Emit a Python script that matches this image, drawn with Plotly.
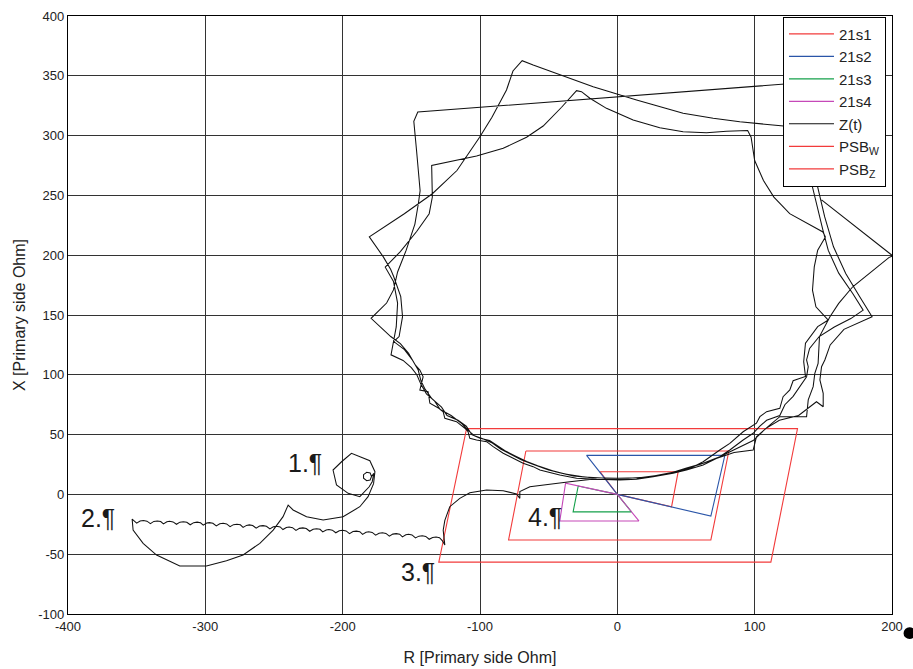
import plotly.graph_objects as go

# ---------------- axis ticks ----------------
x_ticks = [-400, -300, -200, -100, 0, 100, 200]
x_ticklabels = ["-400", "-300", "-200", "-100", "0", "100", "200"]
y_ticks = [-100, -50, 0, 50, 100, 150, 200, 250, 300, 350, 400]
y_ticklabels = ["-100", "-50", "0", "50", "100", "150", "200", "250", "300", "350", "400"]

# ---------------- zone characteristics (R, X in primary ohm) ----------------
z1_r = [0, -12.7, 44.3, 39.5, 0]
z1_x = [0, 19.0, 19.0, -10.3, 0]
z2_r = [0, -22.4, 78.3, 68.1, 0]
z2_x = [0, 32.6, 32.6, -18.1, 0]
z3_r = [0, -28.5, -32.2, 10.3, 0]
z3_x = [0, 7.0, -14.6, -14.6, 0]
z4_r = [0, -37.7, -41.9, 15.7, 0]
z4_x = [0, 9.3, -22.2, -22.2, 0]
psbw_r = [-66.6, 81.2, 68.1, -79.2, -66.6]
psbw_x = [36.3, 36.3, -38.1, -38.1, 36.3]
psbz_r = [-109.8, 131.2, 111.8, -130.0, -109.8]
psbz_x = [55.0, 55.0, -56.6, -56.6, 55.0]

# ---------------- impedance trajectory Z(t), piece by piece ----------------
seg_start = [(-179, 15), (-180, 18), (-182.5, 18.5), (-184.8, 16.5), (-184.8, 13.5),
             (-182.5, 11.5), (-180, 12), (-179, 15), (-177.3, 17.6), (-178.5, 10.6),
             (-180.7, 6.4), (-187.5, -1.9), (-196, 0.9), (-204.5, 7.9), (-207, 20.4),
             (-200.8, 27.3), (-193.6, 34.4), (-180.2, 28.2), (-176.5, 19), (-177.5, 9),
             (-181.5, -1.9), (-187.5, -10.3), (-199.7, -18.6), (-214.2, -21.4),
             (-226.3, -18.6), (-236.1, -13), (-239.7, -8.9)]
seg_arc = [(-243.4, -18.6), (-250.6, -29.8), (-260.3, -40.9), (-272.5, -50.7),
           (-284.6, -55.4), (-299.2, -59.9), (-318.6, -59.9), (-335.5, -50.7),
           (-345.3, -40.9), (-352.6, -29.8), (-353.3, -20.6), (-350, -24.0)]
seg_scallop = [(-347.5, -22.3), (-345, -21.9), (-342.5, -22.4), (-340, -24.4),
               (-337.5, -22.6), (-335, -22.2), (-332.5, -22.7), (-330.5, -24.7),
               (-328, -22.9), (-326, -22.5), (-323.5, -23.0), (-321, -25.0),
               (-318.5, -23.2), (-316, -22.8), (-313.5, -23.3), (-311, -25.4),
               (-308.5, -23.6), (-306, -23.2), (-303.5, -23.7), (-301.5, -25.7),
               (-299, -24.0), (-297, -23.6), (-294.5, -24.1), (-292, -26.3),
               (-289.5, -24.6), (-287, -24.2), (-284.5, -24.7), (-282, -27.0),
               (-279.5, -25.3), (-277, -24.9), (-274.5, -25.4), (-272.5, -27.6),
               (-270, -25.9), (-268, -25.5), (-265.5, -26.0), (-263, -28.2),
               (-260.5, -26.5), (-258, -26.1), (-255.5, -26.6), (-253, -28.8),
               (-250.5, -27.1), (-248, -26.7), (-245.5, -27.2), (-243.5, -29.4),
               (-241, -27.7), (-239, -27.3), (-236.5, -27.8), (-234, -30.1),
               (-231.5, -28.4), (-229, -28.0), (-226.5, -28.5), (-224, -30.8),
               (-221.5, -29.1), (-219, -28.7), (-216.5, -29.2), (-214.5, -31.4),
               (-212, -29.8), (-210, -29.4), (-207.5, -29.9), (-205, -32.1),
               (-202.5, -30.4), (-200, -30.0), (-197.5, -30.5), (-195, -32.8),
               (-192.5, -31.1), (-190, -30.7), (-187.5, -31.2), (-185.5, -33.4),
               (-183, -31.7), (-181, -31.3), (-178.5, -31.8), (-176, -34.1),
               (-173.5, -32.5), (-171, -32.1), (-168.5, -32.6), (-166, -34.9),
               (-163.5, -33.2), (-161, -32.8), (-158.5, -33.3), (-156.5, -35.5),
               (-154, -33.8), (-152, -33.4), (-149.5, -33.9), (-147, -36.4),
               (-144.5, -34.9), (-142, -34.6), (-139.5, -35.1), (-137, -37.5),
               (-134.5, -36.0), (-132, -35.7), (-129.5, -36.2), (-127.5, -38.6)]
seg_enter = [(-125.6, -42.3), (-126.8, -30), (-125.6, -21.7), (-122, -10.3), (-114.7, -3.3),
             (-107.4, 1.4), (-95.2, 3.7), (-83.1, 3.1), (-73.4, 0.3), (-71, -3.3), (-71, 2.3),
             (-63.7, 6.4), (-51.6, 7.9), (-34.6, 10.6), (-20, 12.5), (-5, 12.8), (14, 12.6),
             (26.1, 14.8), (40.6, 17.6), (50.4, 20.4), (62.5, 24.6), (74.6, 31.5), (81.9, 37.1),
             (91.6, 45.5), (98.9, 51.1), (103.8, 57), (108.7, 62), (118.3, 66), (122, 75),
             (128, 82), (133, 90), (137.8, 98.4), (139, 106.8), (137.8, 112.4)]
lap_a = [(140, 122), (147, 132), (158, 140), (170, 147), (179, 154), (171.4, 168),
         (161.2, 185), (153.6, 204), (149.7, 221), (145.9, 240), (142.1, 257), (150, 300),
         (155, 346), (-145.3, 319.7), (-148.2, 312), (-146.2, 287.5), (-143.6, 254),
         (-144.9, 243), (-147.4, 226), (-153.8, 204), (-160, 186), (-163, 171), (-168, 160),
         (-179.3, 147.2), (-172, 139), (-165, 132), (-158, 126), (-152, 118), (-147, 108),
         (-143.8, 104), (-141.4, 98.4), (-143.8, 87.3), (-137.8, 85.9), (-136.5, 76.2),
         (-130, 72), (-126.8, 69.1), (-125.6, 63.6), (-117.1, 60.8), (-111, 55.3),
         (-108.7, 52.4), (-107.4, 46.9), (-102.5, 45.5), (-95.2, 44.1), (-90.4, 39.9),
         (-83.1, 34.4), (-75.9, 30.2), (-68.6, 26), (-61.3, 23.2), (-56.4, 20.4),
         (-41.9, 16.2), (-29.7, 13.5), (-15.1, 12.6), (1.8, 12), (14, 12.6), (26.1, 15.5),
         (40.6, 18.5), (50.4, 22), (62.5, 26), (74.6, 31.5), (90, 40), (98.9, 45), (108, 55),
         (118, 62), (132, 66), (145, 77.5), (149.9, 73.3), (149.9, 84.5), (147.5, 95.7),
         (148.7, 106.8), (151.1, 112.4)]
lap_p = [(155, 125), (165, 138), (176, 144), (185.5, 148.6), (176.5, 165.3), (166.3, 184.7),
         (157.4, 207), (151, 232), (145.9, 257), (140, 285), (130, 300), (121, 308),
         (89.2, 311.6), (69.8, 314.5), (47.9, 318.6), (14, 329.8), (-17.6, 340.9),
         (-41.9, 350.7), (-61.3, 359), (-69.3, 362.6), (-76, 354), (-80.7, 338.1),
         (-91.3, 315.3), (-100.3, 298.6), (-116.8, 270.8), (-134.7, 251.4), (-155.1, 234.7),
         (-180.6, 215.3), (-175, 206), (-170.4, 198.6), (-165, 188), (-162.8, 182),
         (-157.7, 165.3), (-156.4, 148.6), (-158.9, 132), (-162.8, 127.8), (-155, 121),
         (-149, 112), (-145, 104), (-143, 95), (-140, 88), (-135, 80), (-128, 73), (-124, 66),
         (-116, 62), (-110, 57), (-106, 50), (-100, 47), (-93, 45), (-88, 41), (-81, 36),
         (-74, 32), (-66, 27.5), (-58, 24), (-45, 19), (-32, 15.5), (-18, 14), (0, 13.5),
         (16, 14), (30, 16), (45.5, 19.5), (55, 23), (62.5, 27.3), (74.6, 37.1), (81.9, 42.7),
         (91.6, 52.4), (101.3, 59.5), (103.8, 65), (108.7, 69.2), (118.3, 72), (120.7, 81.7),
         (125.6, 87.3), (128, 95), (137, 98.6)]
lap_q = [(135.7, 111), (137, 126.4), (145.9, 140.3), (153.6, 145.8), (144.6, 156.9),
         (142.1, 170.8), (143.4, 190.3), (145.9, 204.2), (151.5, 215.3), (149.7, 219.4),
         (138.3, 226.4), (125.5, 234.7), (114, 248.6), (106.4, 262.5), (100, 279.2),
         (97.4, 298.6), (94.9, 304.2), (79.5, 303.6), (64.9, 302.4), (47.9, 303.3),
         (30.9, 306.6), (11.5, 313), (-7.9, 322.8), (-20, 331.2), (-26.1, 336.7),
         (-29.7, 337.6), (-40.6, 323.7), (-54, 308), (-66.1, 298.6), (-83.1, 289.4),
         (-102.5, 283), (-113.4, 280.2), (-135.2, 275), (-134.7, 248.6), (-137, 234.7),
         (-146, 220), (-158, 203), (-169, 190), (-163, 178), (-160, 160), (-161, 140),
         (-164.8, 116.7), (-156, 112), (-150, 106), (-146, 100), (-143, 92), (-139, 84),
         (-133, 78), (-129, 71), (-121, 66), (-113, 59), (-109, 54), (-104, 49), (-98, 46.5),
         (-91, 43), (-85, 38), (-78, 33.5), (-70, 29), (-62, 25.5), (-50, 20.5), (-38, 17),
         (-24, 14.5), (-8, 13.5), (8, 13.5), (22, 14.5), (36, 17), (48, 21), (60, 25),
         (72, 30), (85, 35), (98.9, 37.1), (101.3, 48.2), (111, 58), (118.3, 65), (137.8, 65),
         (139, 79), (142.6, 90.1), (143.8, 101.2), (146.2, 109.6), (147.2, 132),
         (154.8, 148.6), (161.2, 159.7), (171.4, 173.6), (186.7, 187.5), (197.7, 198),
         (200.5, 199.5), (148.7, 246.2)]

path = seg_start + seg_arc + seg_scallop + seg_enter + lap_a + lap_p + lap_q
zt_r = [p[0] for p in path]
zt_x = [p[1] for p in path]

# ---------------- labels ----------------
label_text = ["1.¶", "2.¶", "3.¶", "4.¶"]
label_r = [-227.6, -378.3, -145.3, -52.8]
label_x = [26.3, -19.7, -64.9, -18.9]

RED = "#f23b3b"
fig = go.Figure()
zones = [("21s1", z1_r, z1_x, RED, 1), ("21s2", z2_r, z2_x, "#2a55a8", 2),
         ("21s3", z3_r, z3_x, "#14a04a", 3), ("21s4", z4_r, z4_x, "#c548b8", 4),
         ("PSB<sub>W</sub>", psbw_r, psbw_x, RED, 6), ("PSB<sub>Z</sub>", psbz_r, psbz_x, RED, 7)]
for name, r, x, c, rank in zones:
    fig.add_trace(go.Scatter(x=r, y=x, mode="lines", name=name, legendrank=rank,
                             line=dict(color=c, width=1.1)))
fig.add_trace(go.Scatter(x=zt_r, y=zt_x, mode="lines", name="Z(t)", legendrank=5,
                         line=dict(color="#111111", width=1.05)))

for t, r, x in zip(label_text, label_r, label_x):
    fig.add_annotation(x=r, y=x, text=t, showarrow=False,
                       font=dict(family="Liberation Sans, Arial, sans-serif", size=25, color="#1a1a1a"))

tickfont = dict(family="Liberation Sans, Arial, sans-serif", size=13, color="#222")
titlefont = dict(family="Liberation Sans, Arial, sans-serif", size=16, color="#222")
fig.update_layout(
    width=913, height=669,
    margin=dict(l=68, r=21, t=16, b=55, autoexpand=False),
    paper_bgcolor="white", plot_bgcolor="white",
    showlegend=True,
    legend=dict(x=0.8677, y=0.999, xanchor="left", yanchor="top",
                bgcolor="white", bordercolor="black", borderwidth=1,
                font=dict(family="Liberation Sans, Arial, sans-serif", size=15, color="#222"),
                itemwidth=45, tracegroupgap=0, entrywidth=88, entrywidthmode="pixels"),
    xaxis=dict(range=[-400, 200], tickmode="array", tickvals=x_ticks, ticktext=x_ticklabels,
               showgrid=True, gridcolor="#333", gridwidth=1, zeroline=False, showline=True,
               linecolor="black", linewidth=1.3, mirror=True, ticks="", tickfont=tickfont,
               automargin=False,
               title=dict(text="R [Primary side Ohm]", standoff=19, font=titlefont)),
    yaxis=dict(range=[-100, 400], tickmode="array", tickvals=y_ticks, ticktext=y_ticklabels,
               showgrid=True, gridcolor="#333", gridwidth=1, zeroline=False, showline=True,
               linecolor="black", linewidth=1.3, mirror=True, ticks="", tickfont=tickfont,
               automargin=False,
               title=dict(text="X [Primary side Ohm]", standoff=8, font=titlefont)),
)
fig.add_shape(type="circle", xref="paper", yref="paper", x0=1.0140, x1=1.0285, y0=-0.042, y1=-0.022,
              fillcolor="black", line=dict(color="black", width=0))
fig.write_html("out.html")
